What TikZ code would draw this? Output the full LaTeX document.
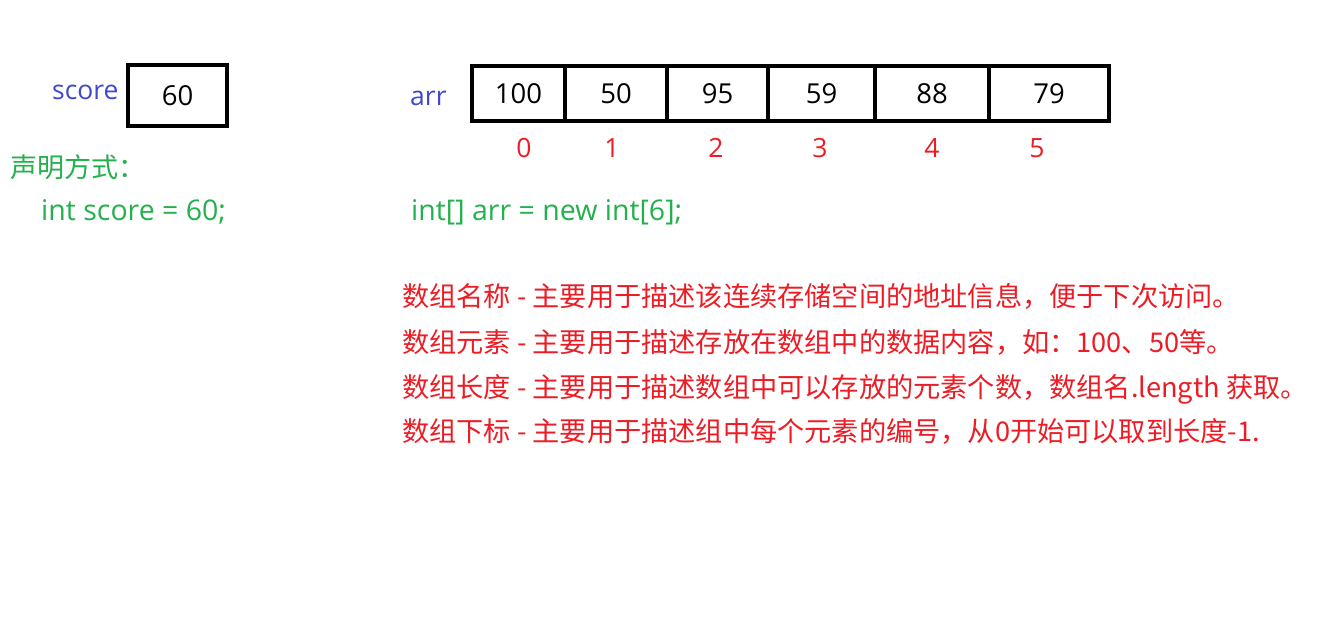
\documentclass[tikz,border=0pt]{standalone}
\usepackage{fontspec}
\setmainfont{Open Sans}
\newfontfamily\cjk{Noto Sans CJK SC}
\definecolor{rosso}{RGB}{237,28,36}
\definecolor{verde}{RGB}{34,177,76}
\definecolor{blu}{RGB}{63,72,204}

\begin{document}
\begin{tikzpicture}[x=1pt,y=-1pt,
    cella/.style={draw, line width=4pt, minimum height=55pt, inner sep=0pt,
                  font=\fontsize{27.5}{30}\selectfont},
    nome/.style={blu, anchor=base west, inner sep=0pt, font=\fontsize{26.5}{30}\selectfont},
    indice/.style={rosso, anchor=base, inner sep=0pt, font=\fontsize{26.5}{30}\selectfont},
    codice/.style={verde, anchor=base west, inner sep=0pt, font=\fontsize{28.5}{30}\selectfont},
    nota/.style={rosso, anchor=base west, inner sep=0pt, font=\cjk\fontsize{27.2}{30}\selectfont}]
    % cornice
    \useasboundingbox (0,0) rectangle (1341,630);

    % variabile singola
    \node[cella, minimum width=99pt, minimum height=61pt] (score) at (177.5,95.5) {60};
    \node[nome] (nscore) at (52,99) {score};

    % array
    \node[nome] (narr) at (410,105) {arr};
    \foreach \x/\w/\v [count=\i from 0] in {518.5/93/100, 616/102/50, 717.5/101/95,
                                             821.5/107/59, 932/114/88, 1049/120/79}
        \node[cella, minimum width=\w pt] (c\i) at (\x,93.5) {\v};

    % indici
    \foreach \x [count=\i from 0] in {524,612,716,820,932,1037}
        \node[indice] (i\i) at (\x,157) {\i};

    % dichiarazioni
    \node[codice, font=\cjk\fontsize{27}{30}\selectfont] (decl) at (10,177) {声明方式：};
    \node[codice] (dscore) at (41,220) {int score = 60;};
    \node[codice] (darr) at (411,220) {int[] arr = new int[6];};

    % note
    \node[nota] (n1) at (402,306) {数组名称 - 主要用于描述该连续存储空间的地址信息，便于下次访问。};
    \node[nota] (n2) at (402,352) {数组元素 - 主要用于描述存放在数组中的数据内容，如：100、50等。};
    \node[nota] (n3) at (402,397) {数组长度 - 主要用于描述数组中可以存放的元素个数，数组名.length 获取。};
    \node[nota] (n4) at (402,441) {数组下标 - 主要用于描述组中每个元素的编号，从0开始可以取到长度-1.};
\end{tikzpicture}
\end{document}
